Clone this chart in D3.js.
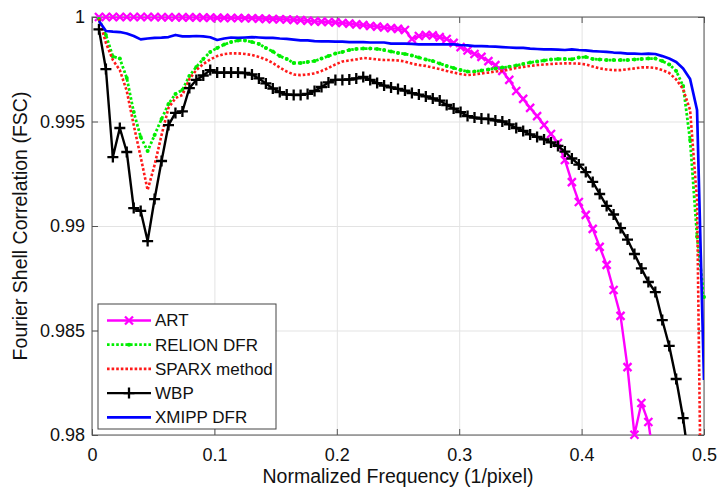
<!DOCTYPE html>
<html lang="en">
<head>
    <meta charset="UTF-8">
    <title>Fourier Shell Correlation</title>
    <script src="https://d3js.org/d3.v7.min.js"></script>
    <style>
        body { margin: 0; background-color: #fff; }
        svg { font-family: "Liberation Sans", Arial, sans-serif; }
        .grid line { stroke: #e3e3e3; stroke-width: 1; }
        .grid path { display: none; }
        .axis path { stroke: none; }
        .axis line { stroke: #555; }
        .axis text { font-size: 18px; fill: #111; }
    </style>
</head>
<body>
    <div id="chart"></div>
    <script type="text/javascript">
        // normalized frequency samples (1/pixel)
        const freq = [
            0.00568, 0.01136, 0.01705, 0.02273, 0.02841, 0.03409, 0.03977, 0.04545, 0.05114, 0.05682,
            0.06250, 0.06818, 0.07386, 0.07955, 0.08523, 0.09091, 0.09659, 0.10227, 0.10795, 0.11364,
            0.11932, 0.12500, 0.13068, 0.13636, 0.14205, 0.14773, 0.15341, 0.15909, 0.16477, 0.17045,
            0.17614, 0.18182, 0.18750, 0.19318, 0.19886, 0.20455, 0.21023, 0.21591, 0.22159, 0.22727,
            0.23295, 0.23864, 0.24432, 0.25000, 0.25568, 0.26136, 0.26705, 0.27273, 0.27841, 0.28409,
            0.28977, 0.29545, 0.30114, 0.30682, 0.31250, 0.31818, 0.32386, 0.32955, 0.33523, 0.34091,
            0.34659, 0.35227, 0.35795, 0.36364, 0.36932, 0.37500, 0.38068, 0.38636, 0.39205, 0.39773,
            0.40341, 0.40909, 0.41477, 0.42045, 0.42614, 0.43182, 0.43750, 0.44318, 0.44886, 0.45455,
            0.46023, 0.46591, 0.47159, 0.47727, 0.48295, 0.48864, 0.49432, 0.50000
        ];

        const artFsc = [
            1.00000, 1.00000, 1.00000, 1.00000, 1.00000, 1.00000, 1.00000, 1.00000, 1.00000, 0.99999,
            0.99999, 0.99999, 0.99998, 0.99998, 0.99998, 0.99997, 0.99997, 0.99996, 0.99996, 0.99995,
            0.99995, 0.99994, 0.99994, 0.99992, 0.99991, 0.99990, 0.99989, 0.99988, 0.99986, 0.99985,
            0.99982, 0.99979, 0.99978, 0.99976, 0.99974, 0.99971, 0.99968, 0.99965, 0.99962, 0.99957,
            0.99954, 0.99950, 0.99947, 0.99943, 0.99938, 0.99895, 0.99909, 0.99914, 0.99912, 0.99904,
            0.99895, 0.99876, 0.99856, 0.99840, 0.99823, 0.99809, 0.99789, 0.99770, 0.99742, 0.99699,
            0.99646, 0.99608, 0.99565, 0.99526, 0.99483, 0.99440, 0.99397, 0.99316, 0.99210, 0.99115,
            0.99053, 0.98986, 0.98900, 0.98814, 0.98694, 0.98570, 0.98325, 0.98001, 0.98153, 0.98062,
            0.97830
        ];

        const relionFsc = [
            0.99990, 0.99914, 0.99811, 0.99801, 0.99708, 0.99545, 0.99426, 0.99359, 0.99435, 0.99512,
            0.99584, 0.99632, 0.99651, 0.99718, 0.99761, 0.99799, 0.99833, 0.99852, 0.99868, 0.99880,
            0.99888, 0.99888, 0.99880, 0.99871, 0.99852, 0.99835, 0.99813, 0.99799, 0.99780, 0.99780,
            0.99785, 0.99789, 0.99801, 0.99813, 0.99825, 0.99833, 0.99842, 0.99847, 0.99849, 0.99849,
            0.99847, 0.99842, 0.99835, 0.99828, 0.99823, 0.99816, 0.99806, 0.99797, 0.99789, 0.99777,
            0.99766, 0.99756, 0.99746, 0.99739, 0.99739, 0.99744, 0.99749, 0.99754, 0.99758, 0.99762,
            0.99768, 0.99775, 0.99782, 0.99787, 0.99792, 0.99797, 0.99799, 0.99799, 0.99798, 0.99806,
            0.99809, 0.99799, 0.99797, 0.99794, 0.99794, 0.99794, 0.99794, 0.99797, 0.99799, 0.99801,
            0.99801, 0.99789, 0.99773, 0.99742, 0.99670, 0.99411, 0.98950, 0.98660
        ];

        const sparxFsc = [
            0.99990, 0.99876, 0.99794, 0.99746, 0.99646, 0.99483, 0.99330, 0.99172, 0.99292, 0.99435,
            0.99565, 0.99612, 0.99627, 0.99703, 0.99746, 0.99775, 0.99797, 0.99813, 0.99823, 0.99826,
            0.99826, 0.99823, 0.99818, 0.99809, 0.99797, 0.99780, 0.99758, 0.99739, 0.99725, 0.99722,
            0.99725, 0.99730, 0.99742, 0.99756, 0.99773, 0.99787, 0.99792, 0.99797, 0.99804, 0.99801,
            0.99797, 0.99794, 0.99794, 0.99792, 0.99787, 0.99777, 0.99770, 0.99766, 0.99758, 0.99751,
            0.99742, 0.99734, 0.99727, 0.99722, 0.99725, 0.99730, 0.99734, 0.99739, 0.99742, 0.99749,
            0.99756, 0.99761, 0.99766, 0.99770, 0.99773, 0.99775, 0.99777, 0.99778, 0.99778, 0.99777,
            0.99773, 0.99763, 0.99754, 0.99749, 0.99746, 0.99746, 0.99750, 0.99754, 0.99759, 0.99759,
            0.99756, 0.99746, 0.99732, 0.99701, 0.99655, 0.99555, 0.99124, 0.96480
        ];

        const wbpFsc = [
            0.99941, 0.99751, 0.99330, 0.99469, 0.99354, 0.99086, 0.99072, 0.98928, 0.99129, 0.99311,
            0.99483, 0.99541, 0.99548, 0.99660, 0.99699, 0.99720, 0.99746, 0.99734, 0.99734, 0.99734,
            0.99734, 0.99732, 0.99725, 0.99706, 0.99682, 0.99658, 0.99641, 0.99629, 0.99627, 0.99627,
            0.99632, 0.99646, 0.99665, 0.99687, 0.99699, 0.99699, 0.99701, 0.99706, 0.99713, 0.99699,
            0.99684, 0.99672, 0.99663, 0.99656, 0.99648, 0.99636, 0.99629, 0.99620, 0.99610, 0.99600,
            0.99579, 0.99562, 0.99545, 0.99526, 0.99519, 0.99514, 0.99512, 0.99505, 0.99500, 0.99486,
            0.99469, 0.99455, 0.99438, 0.99426, 0.99414, 0.99400, 0.99383, 0.99356, 0.99323, 0.99294,
            0.99258, 0.99211, 0.99153, 0.99096, 0.99055, 0.98990, 0.98935, 0.98866, 0.98797, 0.98732,
            0.98684, 0.98550, 0.98426, 0.98268, 0.98081, 0.97833, 0.97593, 0.97306
        ];

        const xmippFsc = [
            0.99981, 0.99933, 0.99930, 0.99928, 0.99921, 0.99909, 0.99893, 0.99897, 0.99900, 0.99901,
            0.99904, 0.99914, 0.99907, 0.99907, 0.99909, 0.99907, 0.99903, 0.99890, 0.99897, 0.99902,
            0.99900, 0.99902, 0.99904, 0.99902, 0.99900, 0.99900, 0.99897, 0.99895, 0.99892, 0.99888,
            0.99888, 0.99885, 0.99883, 0.99883, 0.99882, 0.99882, 0.99880, 0.99880, 0.99880, 0.99878,
            0.99878, 0.99878, 0.99873, 0.99873, 0.99873, 0.99871, 0.99869, 0.99869, 0.99869, 0.99869,
            0.99869, 0.99869, 0.99866, 0.99864, 0.99861, 0.99861, 0.99859, 0.99858, 0.99856, 0.99854,
            0.99852, 0.99852, 0.99849, 0.99847, 0.99845, 0.99845, 0.99844, 0.99842, 0.99845, 0.99842,
            0.99840, 0.99837, 0.99835, 0.99833, 0.99830, 0.99828, 0.99825, 0.99825, 0.99823, 0.99825,
            0.99823, 0.99813, 0.99801, 0.99785, 0.99754, 0.99703, 0.99555, 0.98263
        ];

        const seriesNames = ["ART", "RELION DFR", "SPARX method", "WBP", "XMIPP DFR"];
        const xTickValues = [0, 0.1, 0.2, 0.3, 0.4, 0.5];
        const yTickValues = [0.98, 0.985, 0.99, 0.995, 1];
        const xLabel = "Normalized Frequency (1/pixel)";
        const yLabel = "Fourier Shell Correlation (FSC)";

        // line styles, same order as seriesNames
        const styles = [
            {values: artFsc, color: "#ff00ff", width: 2.4, dash: null, marker: "x"},
            {values: relionFsc, color: "#00ee00", width: 2.8, dash: "2.6,2", marker: "dot"},
            {values: sparxFsc, color: "#ff1a1a", width: 2.6, dash: "2.6,2", marker: null},
            {values: wbpFsc, color: "#000000", width: 2.4, dash: null, marker: "plus"},
            {values: xmippFsc, color: "#0000ff", width: 2.7, dash: null, marker: null}
        ];

        const W = 718, H = 489;
        const margin = {top: 17, right: 14, bottom: 54, left: 92},
              width = W - margin.left - margin.right,
              height = H - margin.top - margin.bottom;

        const x = d3.scaleLinear().domain([0, 0.5]).range([0, width]);
        const y = d3.scaleLinear().domain([0.98, 1]).range([height, 0]);

        const svg = d3.select("#chart").append("svg")
            .attr("width", W)
            .attr("height", H)
            .append("g")
            .attr("transform", "translate(" + margin.left + "," + margin.top + ")");

        svg.append("defs").append("clipPath").attr("id", "plot-clip")
            .append("rect").attr("width", width).attr("height", height);

        // grid
        svg.append("g").attr("class", "grid")
            .attr("transform", "translate(0," + height + ")")
            .call(d3.axisBottom(x).tickValues(xTickValues).tickSize(-height).tickFormat(""));
        svg.append("g").attr("class", "grid")
            .call(d3.axisLeft(y).tickValues(yTickValues).tickSize(-width).tickFormat(""));

        // axes with inward ticks
        svg.append("g").attr("class", "axis")
            .attr("transform", "translate(0," + height + ")")
            .call(d3.axisBottom(x).tickValues(xTickValues).tickSize(-6).tickPadding(13)
                .tickFormat(d => String(d)));
        svg.append("g").attr("class", "axis")
            .call(d3.axisTop(x).tickValues(xTickValues).tickSize(-6).tickFormat(""));
        svg.append("g").attr("class", "axis")
            .call(d3.axisLeft(y).tickValues(yTickValues).tickSize(-6).tickPadding(7)
                .tickFormat(d => String(+d.toFixed(3))));
        svg.append("g").attr("class", "axis")
            .attr("transform", "translate(" + width + ",0)")
            .call(d3.axisRight(y).tickValues(yTickValues).tickSize(-6).tickFormat(""));

        svg.append("rect")
            .attr("width", width).attr("height", height)
            .attr("fill", "none").attr("stroke", "#555").attr("stroke-width", 1);

        const line = d3.line()
            .x((d, i) => x(freq[i]))
            .y(d => y(d));

        function drawMarker(g, kind, cx, cy, color) {
            if (kind === "x") {
                const r = 4;
                g.append("path")
                    .attr("d", `M${cx - r},${cy - r}L${cx + r},${cy + r}M${cx - r},${cy + r}L${cx + r},${cy - r}`)
                    .attr("stroke", color).attr("stroke-width", 2.3).attr("fill", "none");
            } else if (kind === "plus") {
                const r = 5.5;
                g.append("path")
                    .attr("d", `M${cx - r},${cy}L${cx + r},${cy}M${cx},${cy - r}L${cx},${cy + r}`)
                    .attr("stroke", color).attr("stroke-width", 2.3).attr("fill", "none");
            } else if (kind === "dot") {
                g.append("circle").attr("cx", cx).attr("cy", cy).attr("r", 2).attr("fill", color);
            }
        }

        styles.forEach(function(s) {
            svg.append("path")
                .datum(s.values)
                .attr("clip-path", "url(#plot-clip)")
                .attr("fill", "none")
                .attr("stroke", s.color)
                .attr("stroke-width", s.width)
                .attr("stroke-dasharray", s.dash)
                .attr("stroke-linejoin", "round")
                .attr("d", line);

            if (s.marker) {
                const mg = svg.append("g");
                s.values.forEach(function(v, i) {
                    if (v >= 0.98) drawMarker(mg, s.marker, x(freq[i]), y(v), s.color);
                });
            }
        });

        // axis labels
        svg.append("text")
            .attr("x", width / 2).attr("y", height + 48)
            .attr("text-anchor", "middle")
            .style("font-size", "19.5px").attr("fill", "#111")
            .text(xLabel);
        svg.append("text")
            .attr("transform", "translate(" + (-65) + "," + (height / 2) + ") rotate(-90)")
            .attr("text-anchor", "middle")
            .style("font-size", "19.5px").attr("fill", "#111")
            .text(yLabel);

        // legend
        const legend = svg.append("g").attr("transform", "translate(6,287)");
        legend.append("rect")
            .attr("width", 178).attr("height", 125)
            .attr("fill", "#fff").attr("stroke", "#444").attr("stroke-width", 1);

        seriesNames.forEach(function(name, i) {
            const s = styles[i];
            const ly = 16.5 + i * 24.2;
            legend.append("line")
                .attr("x1", 9).attr("x2", 53).attr("y1", ly).attr("y2", ly)
                .attr("stroke", s.color).attr("stroke-width", s.width)
                .attr("stroke-dasharray", s.dash);
            if (s.marker) drawMarker(legend, s.marker, 31, ly, s.color);
            legend.append("text")
                .attr("x", 57).attr("y", ly).attr("dy", "0.35em")
                .style("font-size", "17px").attr("fill", "#111")
                .text(name);
        });
    </script>
</body>
</html>
